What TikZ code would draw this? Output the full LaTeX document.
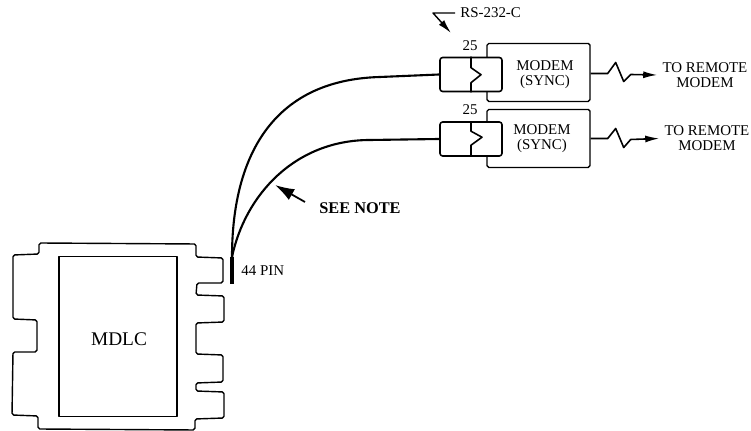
\documentclass[tikz,border=0pt]{standalone}
\usepackage{fontspec}
\setmainfont{Liberation Serif}
\usetikzlibrary{arrows.meta, positioning}

\begin{document}
\begin{tikzpicture}[x=0.02cm, y=-0.02cm, line join=round,
    every node/.style={font=\fontsize{8.5}{8.5}\selectfont, inner sep=0pt},
    modembox/.style={draw, line width=0.8pt, rounded corners=1pt, fill=white, minimum width=103*0.02cm, minimum height=58*0.02cm},
    connbox/.style={draw, line width=0.9pt, rounded corners=1.5pt, fill=white, minimum width=62*0.02cm, minimum height=34*0.02cm},
    cable/.style={line width=1.2pt},
    wire/.style={line width=0.9pt, -{Latex[length=8pt, width=4pt]}}]
\useasboundingbox (0,0) rectangle (751,431);

% MDLC board
\draw[line width=0.8pt, rounded corners=1pt] (39,243) -- (196,244) -- (196,257) -- (223,258) -- (223,283) -- (197,283) -- (196,295) -- (224,296) -- (224,322) -- (196,323) -- (196,354) -- (223,355) -- (223,382) -- (196,383) -- (196,391) -- (224,392) -- (224,418) -- (195,419) -- (195,430) -- (38,429) -- (38,416) -- (12,415) -- (13,352) -- (37,352) -- (37,320) -- (13,319) -- (13,255) -- (39,254) -- cycle;
\node[draw, line width=0.8pt, minimum width=118*0.02cm, minimum height=160*0.02cm] (mdlcbox) at (118,336.5) {};
\node[font=\fontsize{11}{11}\selectfont] (mdlc) at (119,339) {MDLC};
\node[anchor=west] (pinlabel) at (241,271) {44 PIN};

% Upper modem
\node[modembox] (modema) at (538.5,72.5) {};
\node[connbox] (conna) at (471,74.5) {};
\draw[line width=0.9pt] (conna.north) -- ++(0,11) -- ++(10,7) -- ++(-10,8) -- (conna.south);
\node[align=center] (labela) at (545,75) {MODEM\\(SYNC)};
\node (numa) at (470,46) {25};
\node[align=center] (remotea) at (705,75) {TO REMOTE\\MODEM};

% Lower modem
\node[modembox] (modemb) at (538.5,138.5) {};
\node[connbox] (connb) at (471,139) {};
\draw[line width=0.9pt] (connb.north) -- ++(0,10) -- ++(11,6) -- ++(-11,8) -- (connb.south);
\node[align=center] (labelb) at (542,138.5) {MODEM\\(SYNC)};
\node (numb) at (470,110) {25};
\node[align=center] (remoteb) at (707,138.5) {TO REMOTE\\MODEM};

% Wires to remote
\draw[wire] (modema.east) ++(0,1) -- ++(17,0) -- ++(8,-11) -- ++(8,19) -- ++(7,-7) -- ([xshift=-5*0.02cm]remotea.west);
\draw[wire] (modemb.east) -- ++(17,0) -- ++(8,-10) -- ++(8,19) -- ++(7,-8) -- ([xshift=-5*0.02cm]remoteb.west);

% Cables
\coordinate (pinlow) at (232,284);
\coordinate (pinhigh) at (232,257);
\draw[line width=2pt] (pinlow) -- (pinhigh);
\draw[cable] (pinhigh) .. controls (232,160) and (270,80) .. (380,77) -- (conna.west);
\draw[cable] (pinhigh) .. controls (245,195) and (295,140) .. (370,140) -- (connb.west);

% Labels
\node[anchor=west] (rs) at (460,13) {RS-232-C};
\coordinate (rscorner) at (433,13);
\coordinate (rstip) at (451,33);
\draw[line width=0.8pt, -{Latex[length=8pt, width=4pt]}] (rs.west) ++(-5,0) -- (rscorner) -- (rstip);
\node[anchor=west, font=\fontsize{9.3}{10}\selectfont\bfseries] (seenote) at (319,208) {SEE NOTE};
\coordinate (notetip) at (275,185);
\draw[line width=1pt, -{Latex[length=11pt, width=7pt]}] (305,202) -- (notetip);
\end{tikzpicture}
\end{document}
